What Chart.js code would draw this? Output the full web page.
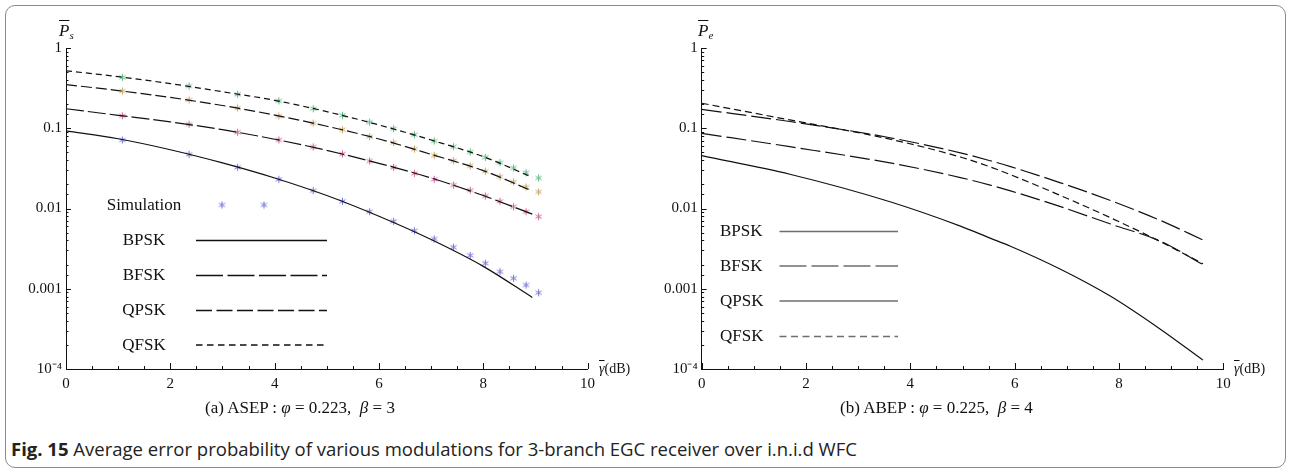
<!DOCTYPE html>
<html>
<head>
<meta charset="utf-8">
<script src="https://cdn.jsdelivr.net/npm/chart.js@4.4.1/dist/chart.umd.min.js"></script>
<style>
  html, body { margin: 0; padding: 0; background: #fff; }
  #page { position: relative; width: 1292px; height: 474px; overflow: hidden;
          font-family: "Liberation Serif", "Times New Roman", serif; color: #111; }
  #frame { position: absolute; left: 5px; top: 5px; width: 1279px; height: 461px;
           border: 1.5px solid #8a8a8a; border-radius: 10px; }
  .plot { position: absolute; top: 0; width: 646px; height: 400px; }
  .plab { position: absolute; top: 22px; font-size: 17px; font-style: italic; line-height: 1; }
  .plab .bar, .glab .bar { text-decoration: overline; }
  .plab sub { font-size: 11px; vertical-align: -3px; }
  .glab { position: absolute; top: 362px; font-size: 14px; line-height: 1; white-space: nowrap; }
  .sub { position: absolute; top: 399px; font-size: 17px; line-height: 1; white-space: nowrap; }
  #caption { position: absolute; left: 11px; top: 440px; font-family: "Open Sans", sans-serif;
             font-size: 15px; line-height: 1; white-space: nowrap; color: #222; }
</style>
</head>
<body>
<div id="page">
  <div id="frame"></div>
  <div class="plot" style="left:0"><canvas id="chartA" width="646" height="400"></canvas></div>
  <div class="plot" style="left:646px"><canvas id="chartB" width="646" height="400"></canvas></div>

  <div class="plab" style="left:59px"><span class="bar">P</span><sub>s</sub></div>
  <div class="plab" style="left:698px"><span class="bar">P</span><sub>e</sub></div>
  <div class="glab" style="left:599px"><i class="bar">γ</i>(dB)</div>
  <div class="glab" style="left:1234px"><i class="bar">γ</i>(dB)</div>

  <div class="sub" style="left:205px">(a) ASEP : <i>φ</i> = 0.223, &nbsp;<i>β</i> = 3</div>
  <div class="sub" style="left:840px">(b) ABEP : <i>φ</i> = 0.225, &nbsp;<i>β</i> = 4</div>

  <div id="caption"><b>Fig. 15</b> Average error probability of various modulations for 3-branch EGC receiver over i.n.i.d WFC</div>
</div>

<script>
// ---- data ----

// tick labels
const xTicks = [0, 2, 4, 6, 8, 10];
const yTicks = [1e-4, 1e-3, 1e-2, 1e-1, 1];
const yTickText = ['10\u207B\u2074', '0.001', '0.01', '0.1', '1'];

// (a) ASEP, simulation points (same SNR grid for every modulation)
const simSnr  = [1.08, 2.36, 3.29, 4.08, 4.74, 5.30, 5.82, 6.28, 6.68, 7.06, 7.43, 7.75, 8.04, 8.32, 8.58, 8.82, 9.06];
const simBPSK = [0.0714, 0.0473, 0.0326, 0.0231, 0.0167, 0.0123, 0.00912, 0.00692, 0.00529, 0.00417, 0.00329, 0.00261, 0.00208, 0.00163, 0.00135, 0.00111, 0.000893];
const simBFSK = [0.143, 0.112, 0.0891, 0.0714, 0.0584, 0.0478, 0.0391, 0.0326, 0.0274, 0.0231, 0.0196, 0.0169, 0.0143, 0.0123, 0.0105, 0.00912, 0.00791];
const simQPSK = [0.291, 0.225, 0.179, 0.142, 0.116, 0.0959, 0.0785, 0.0661, 0.0551, 0.0460, 0.0394, 0.0339, 0.0291, 0.0249, 0.0214, 0.0185, 0.0161];
const simQFSK = [0.431, 0.336, 0.265, 0.219, 0.175, 0.145, 0.119, 0.0987, 0.0831, 0.0694, 0.0589, 0.0506, 0.0434, 0.0372, 0.0320, 0.0279, 0.0240];

// (a) ASEP, analytical curves
const asepSnr  = [0, 1, 2, 3, 4, 5, 6, 7, 8, 8.94];
const asepBPSK = [0.093, 0.074, 0.054, 0.037, 0.024, 0.0145, 0.0080, 0.0041, 0.0019, 0.00078];
const asepBFSK = [0.175, 0.145, 0.12, 0.096, 0.073, 0.053, 0.0365, 0.024, 0.0145, 0.0085];
const asepQPSK = [0.35, 0.295, 0.242, 0.192, 0.146, 0.106, 0.0735, 0.0473, 0.0297, 0.0165];
const asepQFSK = [0.52, 0.44, 0.36, 0.285, 0.223, 0.161, 0.110, 0.0714, 0.0443, 0.0245];

// (b) ABEP, analytical curves
const abepSnr  = [0, 1.69, 3.61, 4.96, 5.53, 5.92, 6.88, 7.84, 8.80, 9.61];
const abepBPSK = [0.0455, 0.0267, 0.01213, 0.00603, 0.00428, 0.00339, 0.00175, 0.000805, 0.000311, 0.000129];
const abepBFSK = [0.0865, 0.0589, 0.0370, 0.0243, 0.0196, 0.0166, 0.01054, 0.0064, 0.0039, 0.0020];
const abepQPSK = [0.172, 0.1213, 0.0762, 0.0493, 0.0394, 0.0333, 0.0209, 0.01256, 0.00708, 0.00405];
const abepQFSK = [0.205, 0.127, 0.0731, 0.0438, 0.0330, 0.0264, 0.0145, 0.00766, 0.00385, 0.00205];

// ---- styling helpers ----
const simColors = {BPSK: '#7778d8', BFSK: '#cc6b9b', QPSK: '#c6a86c', QFSK: '#62bb84'};

function pairs(xs, ys) {
  return xs.map((x, i) => ({x: x, y: ys[i]}));
}

// small 6-armed asterisk like the one in the figure
function asterisk(color) {
  const c = document.createElement('canvas');
  c.width = 9; c.height = 9;
  const g = c.getContext('2d');
  g.strokeStyle = color;
  g.lineWidth = 1;
  g.beginPath();
  for (let k = 0; k < 3; k++) {
    const a = Math.PI / 2 + k * Math.PI / 3;
    g.moveTo(4.5 + 3.6 * Math.cos(a), 4.5 + 3.6 * Math.sin(a));
    g.lineTo(4.5 - 3.6 * Math.cos(a), 4.5 - 3.6 * Math.sin(a));
  }
  g.stroke();
  return c;
}

function lineSet(label, xs, ys, dash) {
  return {label: label, data: pairs(xs, ys), borderColor: '#111', borderWidth: 1.2,
          borderDash: dash, pointRadius: 0, cubicInterpolationMode: 'monotone', fill: false};
}
function simSet(label, ys) {
  return {label: label, data: pairs(simSnr, ys), showLine: false,
          pointStyle: asterisk(simColors[label]), pointRadius: 4, borderColor: simColors[label]};
}

// ticks drawn on the inside of the axes
const innerTicks = {
  id: 'innerTicks',
  afterDraw(chart) {
    const {ctx, chartArea: a, scales: {x, y}} = chart;
    ctx.save();
    ctx.strokeStyle = '#111';
    ctx.lineWidth = 1;
    ctx.beginPath();
    x.ticks.forEach(t => {
      const px = Math.round(x.getPixelForValue(t.value)) + 0.5;
      const len = xTicks.includes(t.value) ? 6 : 3;
      ctx.moveTo(px, a.bottom);
      ctx.lineTo(px, a.bottom - len);
    });
    y.ticks.forEach(t => {
      const py = Math.round(y.getPixelForValue(t.value)) + 0.5;
      const major = yTicks.some(v => Math.abs(v - t.value) / v < 1e-6);
      ctx.moveTo(a.left, py);
      ctx.lineTo(a.left + (major ? 5 : 2.5), py);
    });
    ctx.stroke();
    ctx.restore();
  }
};

// legend box drawn inside the plot, like the original
const sketchLegend = {
  id: 'sketchLegend',
  afterDraw(chart, args, o) {
    const ctx = chart.ctx;
    ctx.save();
    ctx.font = '17px "Liberation Serif", serif';
    ctx.textBaseline = 'middle';
    ctx.textAlign = o.align;
    o.items.forEach((it, i) => {
      const yy = o.rows[i];
      ctx.fillStyle = '#111';
      ctx.fillText(it.text, o.textX, yy + 1);
      if (it.marker) {
        it.markerX.forEach(mx => ctx.drawImage(asterisk(it.marker), mx - 4.5, yy - 4.5));
      } else {
        ctx.strokeStyle = o.lineColor;
        ctx.lineWidth = o.lineWidth;
        ctx.setLineDash(it.dash);
        ctx.beginPath();
        ctx.moveTo(o.lineX0, yy + 0.5);
        ctx.lineTo(o.lineX1, yy + 0.5);
        ctx.stroke();
      }
    });
    ctx.restore();
  }
};

function makeChart(id, datasets, axisW, padRight, legendOpts) {
  return new Chart(document.getElementById(id), {
    type: 'line',
    data: {datasets: datasets},
    options: {
      responsive: false,
      animation: false,
      layout: {padding: {left: 0, top: 48, right: padRight, bottom: 0}},
      plugins: {legend: {display: false}, tooltip: {enabled: false}, sketchLegend: legendOpts},
      scales: {
        x: {
          type: 'linear', min: 0, max: 10,
          grid: {display: true, drawOnChartArea: false, drawTicks: false},
          border: {display: true, color: '#111', width: 1},
          ticks: {stepSize: 0.5, autoSkip: false, maxRotation: 0, padding: 6, color: '#111',
                  font: {family: '"Liberation Serif", serif', size: 15},
                  callback: v => xTicks.includes(v) ? String(v) : ''},
          afterFit: s => { s.height = 31; }
        },
        y: {
          type: 'logarithmic', min: 1e-4, max: 1,
          grid: {display: true, drawOnChartArea: false, drawTicks: false},
          border: {display: true, color: '#111', width: 1},
          ticks: {autoSkip: false, padding: 4, color: '#111',
                  font: {family: '"Liberation Serif", serif', size: 15},
                  callback: v => {
                    const k = yTicks.findIndex(t => Math.abs(t - v) / t < 1e-6);
                    return k >= 0 ? yTickText[k] : '';
                  }},
          afterFit: s => { s.width = axisW; }
        }
      }
    },
    plugins: [innerTicks, sketchLegend]
  });
}

makeChart('chartA', [
  lineSet('BPSK', asepSnr, asepBPSK, []),
  lineSet('BFSK', asepSnr, asepBFSK, [18, 4]),
  lineSet('QPSK', asepSnr, asepQPSK, [11, 4]),
  lineSet('QFSK', asepSnr, asepQFSK, [6, 4]),
  simSet('BPSK', simBPSK),
  simSet('BFSK', simBFSK),
  simSet('QPSK', simQPSK),
  simSet('QFSK', simQFSK)
], 66, 58.4, {
  align: 'center', textX: 144, lineX0: 196, lineX1: 327, lineColor: '#111', lineWidth: 1.3,
  rows: [205, 240, 275, 310, 344.5],
  items: [
    {text: 'Simulation', marker: simColors.BPSK, markerX: [222, 264]},
    {text: 'BPSK', dash: []},
    {text: 'BFSK', dash: [27, 4.5]},
    {text: 'QPSK', dash: [16, 4.5]},
    {text: 'QFSK', dash: [6.5, 4.5]}
  ]
});

makeChart('chartB', [
  lineSet('BPSK', abepSnr, abepBPSK, []),
  lineSet('BFSK', abepSnr, abepBFSK, [20, 5]),
  lineSet('QPSK', abepSnr, abepQPSK, [20, 5]),
  lineSet('QFSK', abepSnr, abepQFSK, [7, 4])
], 55.7, 68.7, {
  align: 'left', textX: 74, lineX0: 133.5, lineX1: 252, lineColor: '#6e6e6e', lineWidth: 1.6,
  rows: [231, 265.5, 300.5, 336],
  items: [
    {text: 'BPSK', dash: []},
    {text: 'BFSK', dash: [27, 5]},
    {text: 'QPSK', dash: []},
    {text: 'QFSK', dash: [7, 4.5]}
  ]
});

// stretch caption to the width it has in the figure
const cap = document.getElementById('caption');
const w = cap.getBoundingClientRect().width;
cap.style.fontSize = (15 * 846 / w).toFixed(2) + 'px';
</script>
</body>
</html>
